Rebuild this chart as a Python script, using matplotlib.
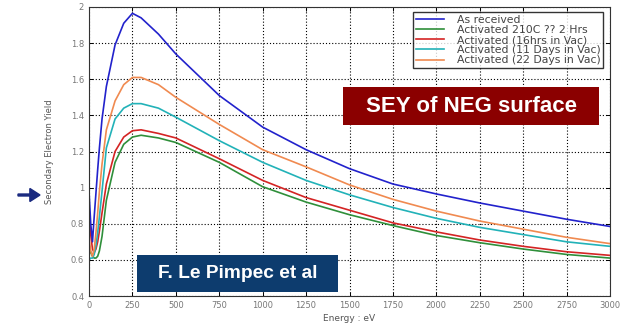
import matplotlib
matplotlib.use("Agg")
import matplotlib.pyplot as plt
from matplotlib.patches import Rectangle, FancyArrow

# Primary electron energy (eV)
energy = [0, 10, 20, 30, 40, 50, 60, 75, 100, 150, 200, 250, 300, 400, 500,
          750, 1000, 1250, 1500, 1750, 2000, 2250, 2500, 2750, 3000]

# Secondary electron yield for each surface condition
sey_as_received = [0.98, 0.80, 0.70, 0.84, 0.97, 1.10, 1.22, 1.38, 1.56, 1.79, 1.91, 1.965, 1.94, 1.85, 1.74,
                   1.51, 1.335, 1.21, 1.105, 1.02, 0.965, 0.915, 0.87, 0.825, 0.785]
sey_2hrs = [0.68, 0.64, 0.62, 0.61, 0.61, 0.62, 0.65, 0.73, 0.93, 1.14, 1.24, 1.28, 1.29, 1.275, 1.25,
            1.14, 1.005, 0.92, 0.85, 0.79, 0.735, 0.695, 0.66, 0.63, 0.61]
sey_16hrs = [0.85, 0.74, 0.66, 0.64, 0.66, 0.70, 0.76, 0.86, 1.02, 1.20, 1.28, 1.315, 1.32, 1.30, 1.275,
             1.16, 1.04, 0.945, 0.875, 0.805, 0.755, 0.71, 0.675, 0.645, 0.625]
sey_11days = [0.60, 0.61, 0.61, 0.63, 0.68, 0.75, 0.84, 0.98, 1.22, 1.38, 1.44, 1.465, 1.465, 1.44, 1.39,
              1.26, 1.14, 1.04, 0.96, 0.89, 0.83, 0.78, 0.74, 0.70, 0.675]
sey_22days = [0.72, 0.65, 0.62, 0.66, 0.75, 0.86, 0.98, 1.13, 1.32, 1.48, 1.57, 1.61, 1.61, 1.57, 1.50,
              1.35, 1.21, 1.115, 1.015, 0.935, 0.87, 0.815, 0.77, 0.725, 0.69]

series_labels = ["As received", "Activated 210C ?? 2 Hrs", "Activated (16hrs in Vac)",
                 "Activated (11 Days in Vac)", "Activated (22 Days in Vac)"]
series_values = [sey_as_received, sey_2hrs, sey_16hrs, sey_11days, sey_22days]
series_colors = ["#2222cc", "#2f8f3a", "#d42424", "#22b2b8", "#f08a50"]

x_ticks = list(range(0, 3001, 250))
y_ticks = [0.4, 0.6, 0.8, 1.0, 1.2, 1.4, 1.6, 1.8, 2.0]
y_tick_labels = ["0.4", "0.6", "0.8", "1", "1.2", "1.4", "1.6", "1.8", "2"]

W, H = 633, 326
fig = plt.figure(figsize=(W / 100, H / 100), dpi=100)
fig.patch.set_facecolor("white")


def fx(px):
    return px / W


def fy(py):
    return (H - py) / H


ax = fig.add_axes([fx(89), fy(296), (610 - 89) / W, (296 - 7) / H])

# Draw green first so the other curves sit on top of it
order = [1, 2, 3, 4, 0]
lines = {}
for i in order:
    ln, = ax.plot(energy, series_values[i], color=series_colors[i], lw=1.2, label=series_labels[i])
    lines[i] = ln

ax.set_xlim(0, 3000)
ax.set_ylim(0.4, 2.0)
ax.set_xticks(x_ticks)
ax.set_xticklabels([str(t) for t in x_ticks])
ax.set_yticks(y_ticks)
ax.set_yticklabels(y_tick_labels)
ax.grid(True, color="black", linestyle=(0, (1, 1.8)), linewidth=0.8)
ax.tick_params(direction="in", top=True, right=True, labelsize=6, labelcolor="#777777",
               length=3, width=0.7)
for s in ax.spines.values():
    s.set_linewidth(0.8)
    s.set_color("#333333")

ax.set_xlabel("Energy : eV", fontsize=6.5, color="#555555", labelpad=3)
ax.set_ylabel("Secondary Electron Yield", fontsize=6, color="#555555", labelpad=12)

leg = ax.legend([lines[i] for i in range(5)], series_labels, loc="upper right",
                bbox_to_anchor=(0.987, 0.983), fontsize=7.8, frameon=True, fancybox=False,
                edgecolor="black", borderpad=0.25, labelspacing=0.02, handlelength=2.6,
                handletextpad=1.2, borderaxespad=0)
leg.get_frame().set_linewidth(1.0)
for t in leg.get_texts():
    t.set_color("#444444")

# Title box
fig.patches.append(Rectangle((fx(343), fy(125)), (599 - 343) / W, (125 - 87) / H,
                             transform=fig.transFigure, facecolor="#8b0000", edgecolor="none",
                             zorder=5))
fig.text(fx((343 + 599) / 2), fy((87 + 125) / 2), "SEY of NEG surface", color="white",
         fontsize=16, fontweight="bold", family="Liberation Sans", ha="center", va="center",
         zorder=6)

# Author box
fig.patches.append(Rectangle((fx(137), fy(292)), (338 - 137) / W, (292 - 255) / H,
                             transform=fig.transFigure, facecolor="#0d3c6e", edgecolor="none",
                             zorder=5))
fig.text(fx((137 + 338) / 2), fy((255 + 292) / 2), "F. Le Pimpec et al", color="white",
         fontsize=13.8, fontweight="bold", family="Liberation Sans", ha="center", va="center",
         zorder=6)

# Pointer arrow on the left
fig.patches.append(FancyArrow(fx(18), fy(195), (40 - 18) / W, 0, width=0.006,
                              head_width=0.04, head_length=0.016, length_includes_head=True,
                              transform=fig.transFigure, color="#1a2a80", zorder=5))

fig.savefig("out.png", dpi=100)
